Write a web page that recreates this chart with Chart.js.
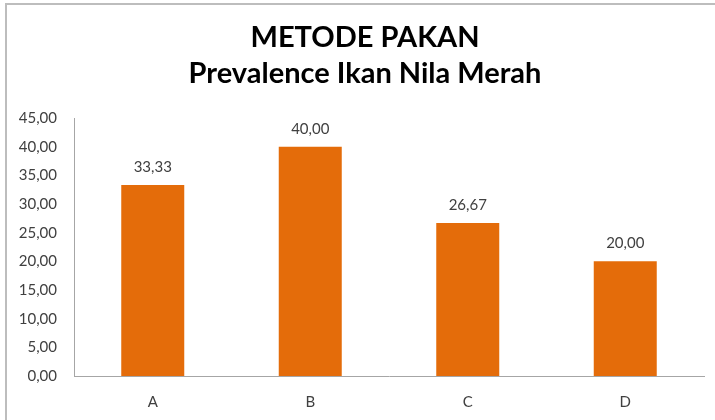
<!DOCTYPE html>
<html>
<head>
<meta charset="utf-8">
<script src="https://cdn.jsdelivr.net/npm/chart.js@4"></script>
<style>
  html, body { margin: 0; padding: 0; background: #fff; }
  #wrap { position: relative; width: 715px; height: 420px; }
  #frame { position: absolute; left: 5px; top: 3px; right: 0; bottom: 0; border-top: 2px solid #bdbdbd; border-left: 2px solid #bdbdbd; pointer-events: none; }
  canvas { position: absolute; left: 0; top: 0; }
</style>
</head>
<body>
<div id="wrap">
  <canvas id="prevalenceChart" width="715" height="420"></canvas>
  <div id="frame"></div>
</div>
<script>
const categories = ['A', 'B', 'C', 'D'];
const prevalenceValues = [33.33, 40.00, 26.67, 20.00];
const yTicks = [0, 5, 10, 15, 20, 25, 30, 35, 40, 45];
const titleLines = ['METODE PAKAN', 'Prevalence Ikan Nila Merah'];

function formatComma(v) {
    return Number(v).toFixed(2).replace('.', ',');
}

// judul dua baris, sedikit bergeser ke kanan seperti di Excel
const chartTitle = {
    id: 'chartTitle',
    afterDraw(chart) {
        const ctx = chart.ctx;
        ctx.save();
        ctx.font = 'bold 29px Lato';
        ctx.fillStyle = '#000';
        ctx.textAlign = 'center';
        ctx.textBaseline = 'middle';
        ctx.fillText(titleLines[0], 365, 37.5);
        ctx.fillText(titleLines[1], 365, 74);
        ctx.restore();
    }
};

// label nilai di atas batang
const barValueLabels = {
    id: 'barValueLabels',
    afterDatasetsDraw(chart) {
        const ctx = chart.ctx;
        const meta = chart.getDatasetMeta(0);
        ctx.save();
        ctx.font = '15px Lato';
        ctx.fillStyle = '#404040';
        ctx.textAlign = 'center';
        ctx.textBaseline = 'middle';
        meta.data.forEach(function (bar, i) {
            ctx.fillText(formatComma(prevalenceValues[i]), bar.x, bar.y - 18);
        });
        ctx.restore();
    }
};

const ctx = document.getElementById('prevalenceChart').getContext('2d');
new Chart(ctx, {
    type: 'bar',
    data: {
        labels: categories,
        datasets: [{
            data: prevalenceValues,
            backgroundColor: '#E46C0A',
            categoryPercentage: 1,
            barPercentage: 0.4
        }]
    },
    options: {
        responsive: false,
        animation: false,
        layout: { padding: { left: 9, right: 11, top: 118, bottom: 0 } },
        plugins: {
            legend: { display: false },
            tooltip: { enabled: false },
            title: { display: false }
        },
        scales: {
            x: {
                grid: { display: false },
                border: { display: true, color: '#a6a6a6', width: 1 },
                ticks: { color: '#404040', font: { family: 'Lato', size: 15 }, padding: 9 },
                afterFit: function (scale) { scale.height = 44; }
            },
            y: {
                min: 0,
                max: 45,
                grid: { display: false },
                border: { display: true, color: '#a6a6a6', width: 1 },
                afterBuildTicks: function (scale) {
                    scale.ticks = yTicks.map(function (v) { return { value: v }; });
                },
                ticks: {
                    color: '#404040',
                    font: { family: 'Lato', size: 15 },
                    padding: 9,
                    callback: function (value) { return formatComma(value); }
                },
                afterFit: function (scale) { scale.width = 65; }
            }
        }
    },
    plugins: [barValueLabels, chartTitle]
});
</script>
</body>
</html>
